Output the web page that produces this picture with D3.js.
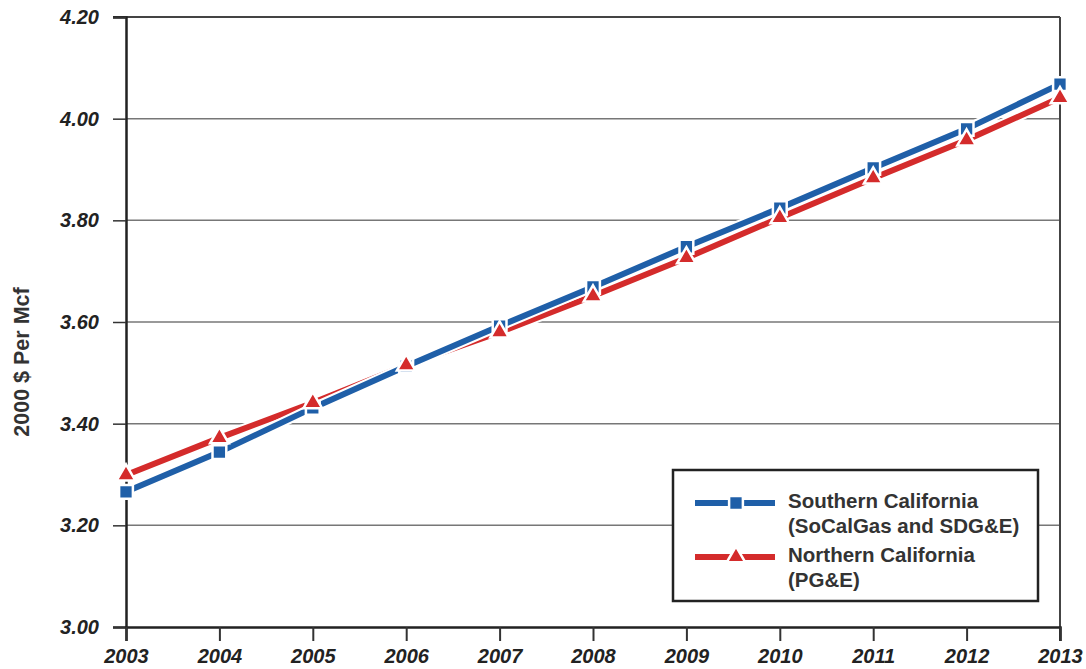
<!DOCTYPE html>
<html><head><meta charset="utf-8">
<script src="https://cdn.jsdelivr.net/npm/d3@7"></script>
<style>body{margin:0;background:#fff}svg{display:block}</style>
</head><body>
<svg id="c" width="1086" height="669"></svg>
<script>
const years = [2003,2004,2005,2006,2007,2008,2009,2010,2011,2012,2013];
const southern = [3.266,3.344,3.431,3.513,3.592,3.669,3.748,3.824,3.903,3.980,4.068];
const northern = [3.299,3.372,3.441,3.515,3.580,3.651,3.726,3.805,3.883,3.958,4.041];
const yTicks = [3.00,3.20,3.40,3.60,3.80,4.00,4.20];
const seriesNames = [["Southern California","(SoCalGas and SDG&E)"],["Northern California","(PG&E)"]];
const colors = ["#1f5fa8","#d42b2b"];

const svg = d3.select("#c");
const L=126,R=1060,T=17,B=627;
const x = d3.scaleLinear().domain([2003,2013]).range([L,R]);
const y = d3.scaleLinear().domain([3.0,4.2]).range([B,T]);
const FONT = "Liberation Sans, Arial, sans-serif";

// gridlines
svg.append("g").selectAll("line").data(yTicks.slice(1,-1)).join("line")
  .attr("x1",L).attr("x2",R).attr("y1",d=>y(d)).attr("y2",d=>y(d))
  .attr("stroke","#777").attr("stroke-width",1.5);

// frame
svg.append("line").attr("x1",L-13).attr("x2",R).attr("y1",T).attr("y2",T).attr("stroke","#444").attr("stroke-width",2);
svg.append("line").attr("x1",R).attr("x2",R).attr("y1",T).attr("y2",B+14).attr("stroke","#444").attr("stroke-width",2);

// y axis
const ya = svg.append("g").attr("transform",`translate(${L},0)`)
  .call(d3.axisLeft(y).tickValues(yTicks).tickFormat(d3.format(".2f")).tickSize(13).tickPadding(14));
ya.select(".domain").attr("stroke","#222").attr("stroke-width",2.5);
ya.selectAll(".tick line").attr("stroke","#333").attr("stroke-width",1.5);
ya.selectAll("text").attr("font-family",FONT).attr("font-size",20)
  .attr("font-weight","bold").attr("font-style","italic").attr("fill","#222");

// x axis
const xa = svg.append("g").attr("transform",`translate(0,${B})`)
  .call(d3.axisBottom(x).tickValues(years).tickFormat(d3.format("d")).tickSize(14).tickPadding(8));
xa.select(".domain").attr("stroke","#222").attr("stroke-width",2.5);
xa.selectAll(".tick line").attr("stroke","#333").attr("stroke-width",2);
xa.selectAll("text").attr("font-family",FONT).attr("font-size",20)
  .attr("font-weight","bold").attr("font-style","italic").attr("fill","#222");

// y label
svg.append("text").attr("transform","translate(29,362) rotate(-90)").attr("text-anchor","middle")
  .attr("font-family",FONT).attr("font-size",21.5).attr("font-weight","bold").attr("fill","#333")
  .text("2000 $ Per Mcf");

const line = d3.line().x((d,i)=>x(years[i])).y(d=>y(d));
const data = [southern, northern];
[1,0].forEach(k=>{
  svg.append("path").datum(data[k]).attr("d",line).attr("fill","none").attr("stroke","#fff").attr("stroke-width",10);
  svg.append("path").datum(data[k]).attr("d",line).attr("fill","none").attr("stroke",colors[k]).attr("stroke-width",6);
});
const sq = d3.symbol().type(d3.symbolSquare).size(190);
const tri = d3.symbol().type(d3.symbolTriangle).size(150);
svg.append("g").selectAll("path").data(southern).join("path")
  .attr("d",sq).attr("transform",(d,i)=>`translate(${x(years[i])},${y(d)})`)
  .attr("fill",colors[0]).attr("stroke","#fff").attr("stroke-width",2.5);
svg.append("g").selectAll("path").data(northern).join("path")
  .attr("d",tri).attr("transform",(d,i)=>`translate(${x(years[i])},${y(d)})`)
  .attr("fill",colors[1]).attr("stroke","#fff").attr("stroke-width",2.5);

// legend
const lg = svg.append("g");
lg.append("rect").attr("x",673).attr("y",470).attr("width",365).attr("height",131)
  .attr("fill","#fff").attr("stroke","#222").attr("stroke-width",2.5);
const ly=[503,557];
[0,1].forEach(k=>{
  lg.append("line").attr("x1",695).attr("x2",775).attr("y1",ly[k]).attr("y2",ly[k])
    .attr("stroke","#fff").attr("stroke-width",10);
  lg.append("line").attr("x1",695).attr("x2",775).attr("y1",ly[k]).attr("y2",ly[k])
    .attr("stroke",colors[k]).attr("stroke-width",6);
  lg.append("path").attr("d",k===0?sq:tri).attr("transform",`translate(736,${ly[k]})`)
    .attr("fill",colors[k]).attr("stroke","#fff").attr("stroke-width",2.5);
  seriesNames[k].forEach((t,j)=>{
    lg.append("text").attr("x",788).attr("y",ly[k]+5+j*25).text(t)
      .attr("font-family",FONT).attr("font-size",20.5).attr("font-weight","bold").attr("fill","#333");
  });
});
</script>
</body></html>
